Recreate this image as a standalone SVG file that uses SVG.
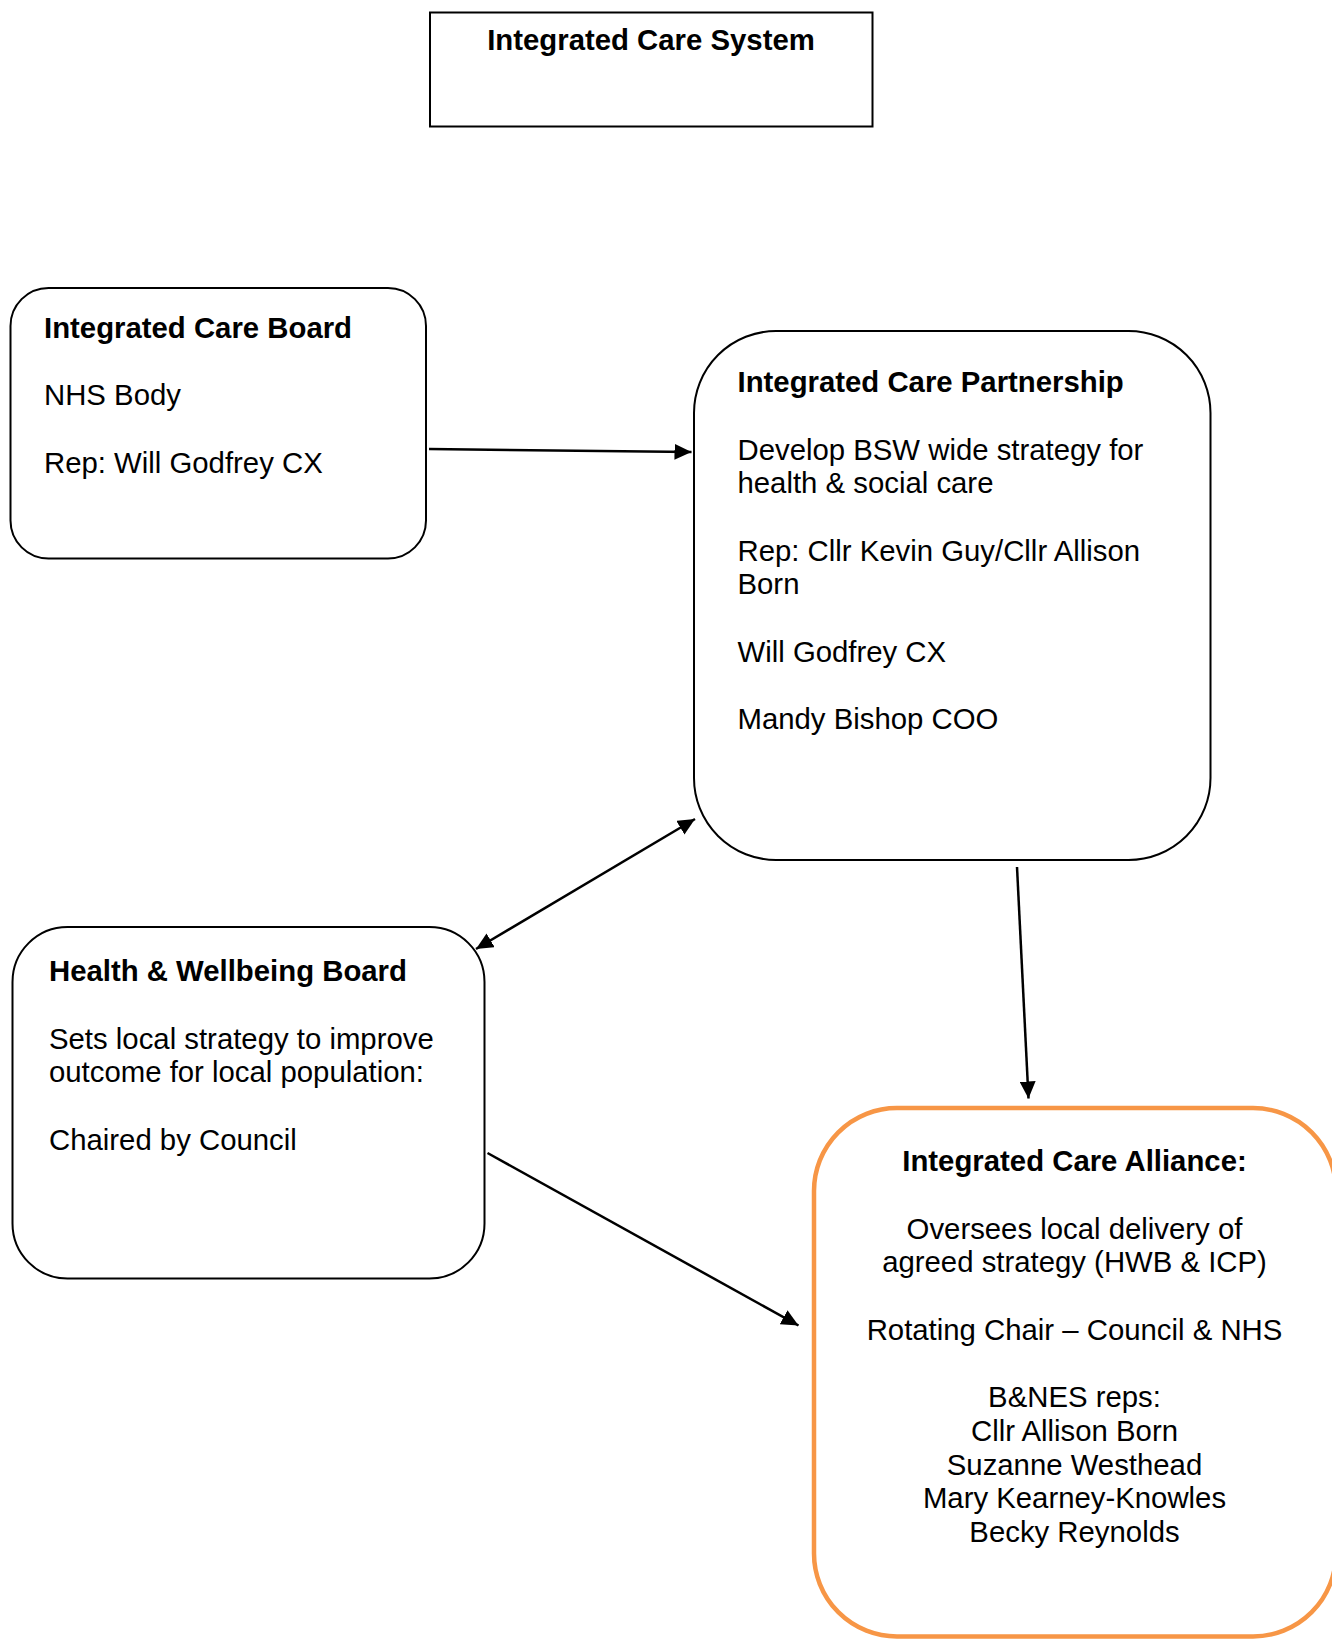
<svg xmlns="http://www.w3.org/2000/svg" width="1332" height="1641" viewBox="0 0 1332 1641">
<style>
text{font-family:"Liberation Sans",Arial,sans-serif;font-size:29.33px;fill:#000}
.b{font-weight:bold}
.c{text-anchor:middle}
.box{fill:#fff;stroke:#000;stroke-width:2}
.ica{fill:#fff;stroke:#F79646;stroke-width:4.5}
.conn{stroke:#000;stroke-width:2.5;fill:none}
</style>
<defs>
<marker id="ah" markerUnits="userSpaceOnUse" markerWidth="18" markerHeight="16" refX="17" refY="8" orient="auto-start-reverse">
<path d="M0,0 L17,8 L0,16 z" fill="#000"/>
</marker>
</defs>
<rect width="1332" height="1641" fill="#fff"/>
<g id="ics">
<rect class="box" x="430" y="12.5" width="442.5" height="114"/>
<text class="b c" x="651" y="50">Integrated Care System</text>
</g>
<g id="icb">
<rect class="box" x="10.5" y="288" width="415.5" height="270.5" rx="38" ry="38"/>
<text class="b" x="44" y="337.5">Integrated Care Board</text>
<text x="44" y="405">NHS Body</text>
<text x="44" y="472.5">Rep: Will Godfrey CX</text>
</g>
<g id="icp">
<rect class="box" x="694" y="331" width="516.5" height="529" rx="82" ry="82"/>
<text class="b" x="737.5" y="392">Integrated Care Partnership</text>
<text x="737.5" y="459.5">Develop BSW wide strategy for</text>
<text x="737.5" y="493">health &amp; social care</text>
<text x="737.5" y="560.5">Rep: Cllr Kevin Guy/Cllr Allison</text>
<text x="737.5" y="594">Born</text>
<text x="737.5" y="661.5">Will Godfrey CX</text>
<text x="737.5" y="729">Mandy Bishop COO</text>
</g>
<g id="hwb">
<rect class="box" x="12.5" y="927" width="472" height="351.5" rx="55" ry="55"/>
<text class="b" x="49" y="981">Health &amp; Wellbeing Board</text>
<text x="49" y="1048.5">Sets local strategy to improve</text>
<text x="49" y="1082">outcome for local population:</text>
<text x="49" y="1149.5">Chaired by Council</text>
</g>
<g id="ica">
<rect class="ica" x="814" y="1108" width="522" height="528.5" rx="83" ry="83"/>
<text class="b c" x="1074.5" y="1171">Integrated Care Alliance:</text>
<text class="c" x="1074.5" y="1238.5">Oversees local delivery of</text>
<text class="c" x="1074.5" y="1272">agreed strategy (HWB &amp; ICP)</text>
<text class="c" x="1074.5" y="1339.5">Rotating Chair – Council &amp; NHS</text>
<text class="c" x="1074.5" y="1407">B&amp;NES reps:</text>
<text class="c" x="1074.5" y="1440.5">Cllr Allison Born</text>
<text class="c" x="1074.5" y="1474.5">Suzanne Westhead</text>
<text class="c" x="1074.5" y="1508">Mary Kearney-Knowles</text>
<text class="c" x="1074.5" y="1541.5">Becky Reynolds</text>
</g>
<g id="connectors">
<line class="conn" x1="429" y1="449" x2="691.5" y2="452" marker-end="url(#ah)"/>
<line class="conn" x1="476" y1="949" x2="695" y2="819" marker-start="url(#ah)" marker-end="url(#ah)"/>
<line class="conn" x1="1017" y1="867" x2="1028.5" y2="1098.5" marker-end="url(#ah)"/>
<line class="conn" x1="487.5" y1="1153" x2="798.5" y2="1325.5" marker-end="url(#ah)"/>
</g>
</svg>
